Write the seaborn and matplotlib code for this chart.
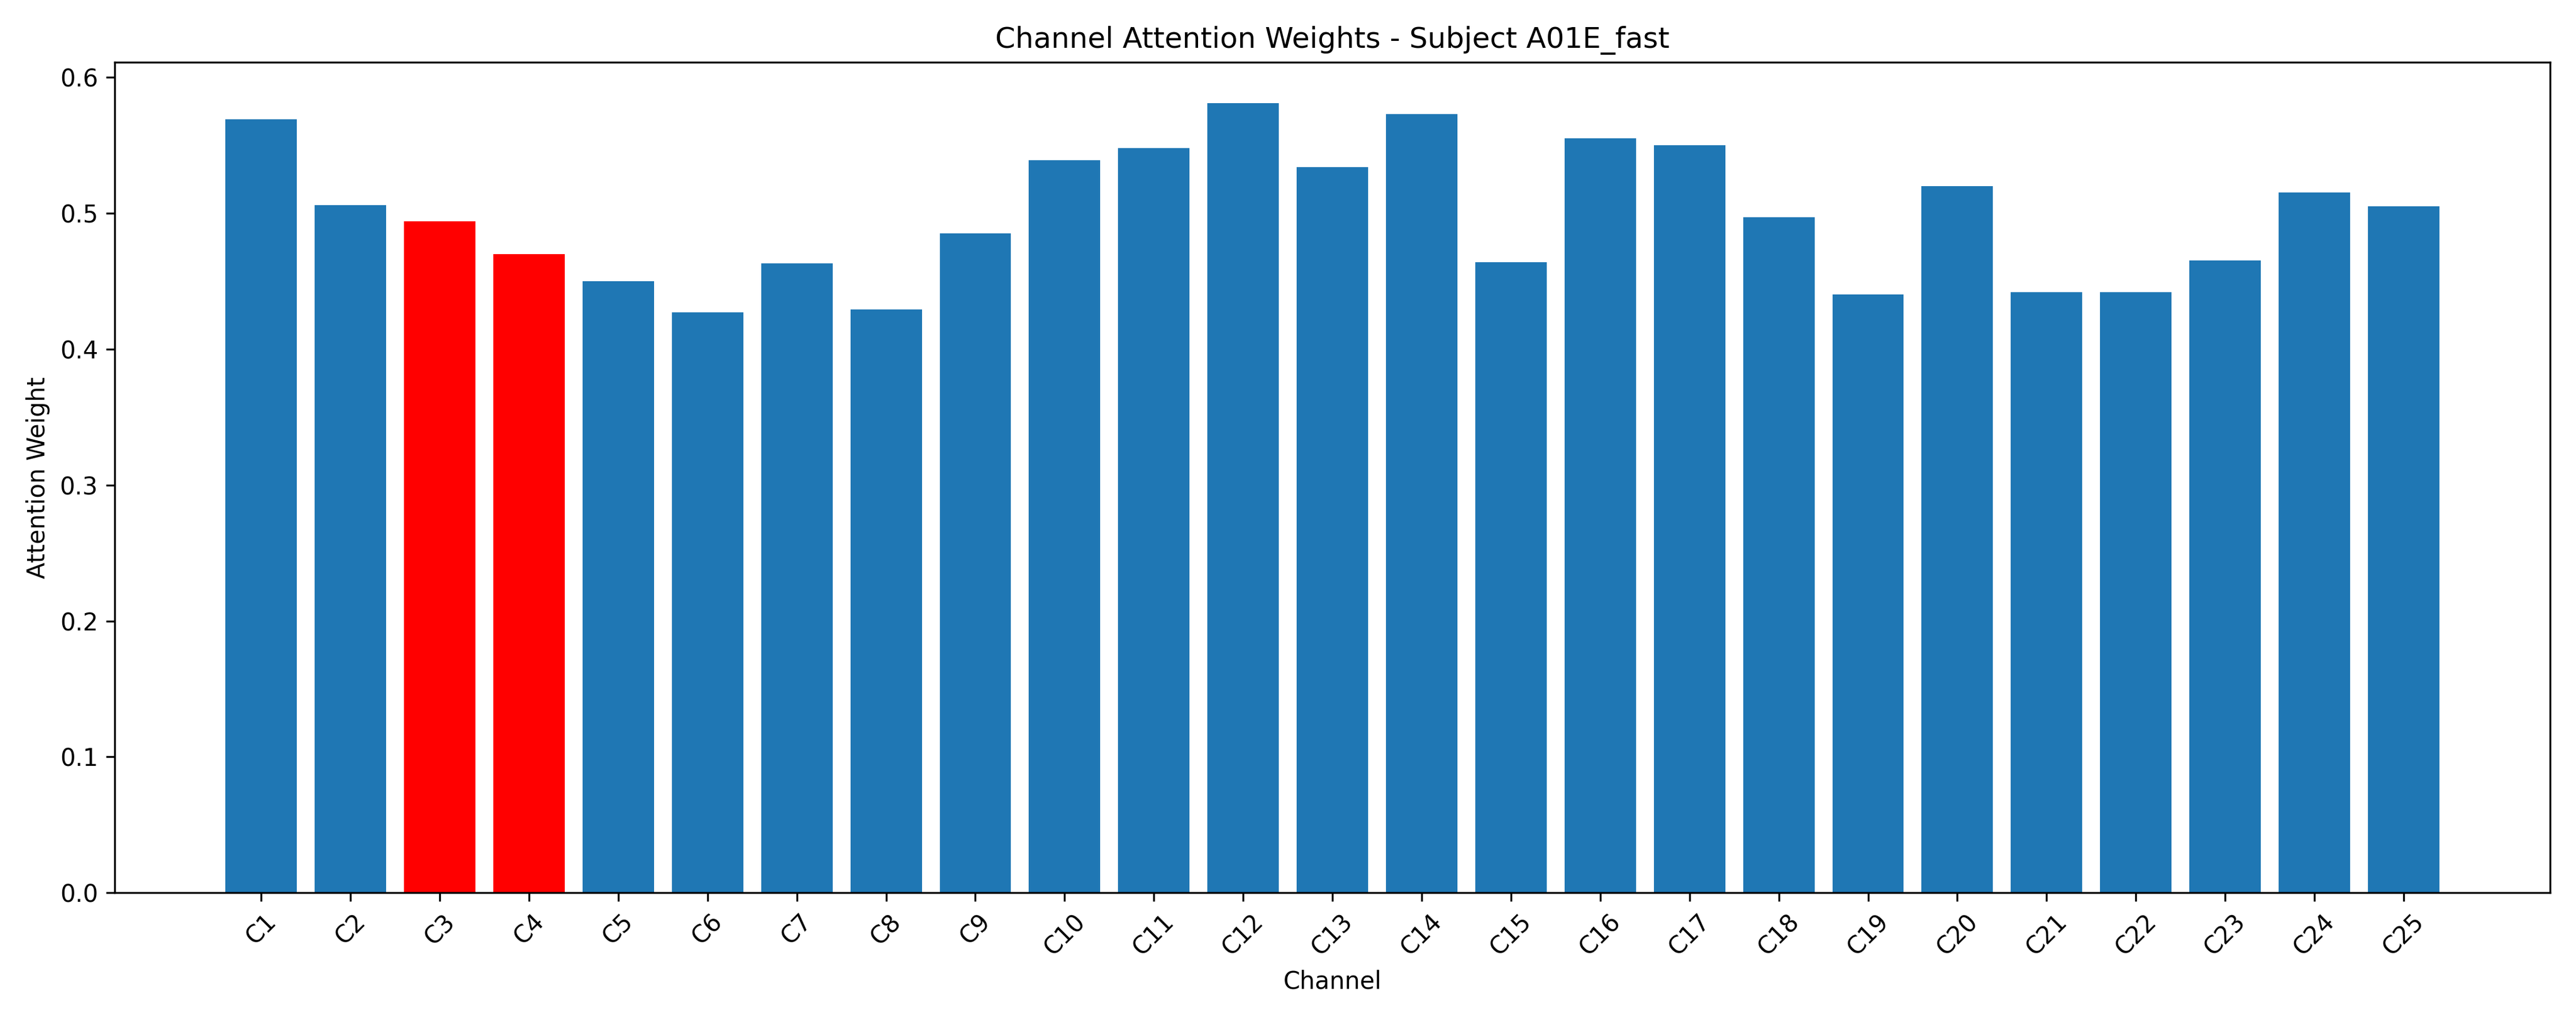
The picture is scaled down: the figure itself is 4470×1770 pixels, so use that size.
import matplotlib
matplotlib.use("Agg")
import matplotlib.pyplot as plt
import seaborn as sns
import pandas as pd

channels = [f"C{i}" for i in range(1, 26)]
weights = [0.569, 0.506, 0.494, 0.470, 0.450, 0.427, 0.463, 0.429, 0.485, 0.539,
           0.548, 0.581, 0.534, 0.573, 0.464, 0.555, 0.550, 0.497, 0.440, 0.520,
           0.442, 0.442, 0.465, 0.515, 0.505]
highlight = ["C3", "C4"]

df = pd.DataFrame({"Channel": channels, "Weight": weights})
palette = {c: ("red" if c in highlight else "#1f77b4") for c in channels}

fig, ax = plt.subplots(figsize=(14.9, 5.9), dpi=300)
sns.barplot(data=df, x="Channel", y="Weight", hue="Channel", palette=palette,
            legend=False, width=0.8, saturation=1, ax=ax)
span = 24.8
ax.set_xlim(-0.4 - 0.05 * span, 24.4 + 0.05 * span)
ax.set_ylim(0, 0.611)
ax.set_xlabel("Channel")
ax.set_ylabel("Attention Weight")
ax.set_title("Channel Attention Weights - Subject A01E_fast")
plt.setp(ax.get_xticklabels(), rotation=45)
fig.tight_layout()
fig.savefig("out.png", dpi=300)
